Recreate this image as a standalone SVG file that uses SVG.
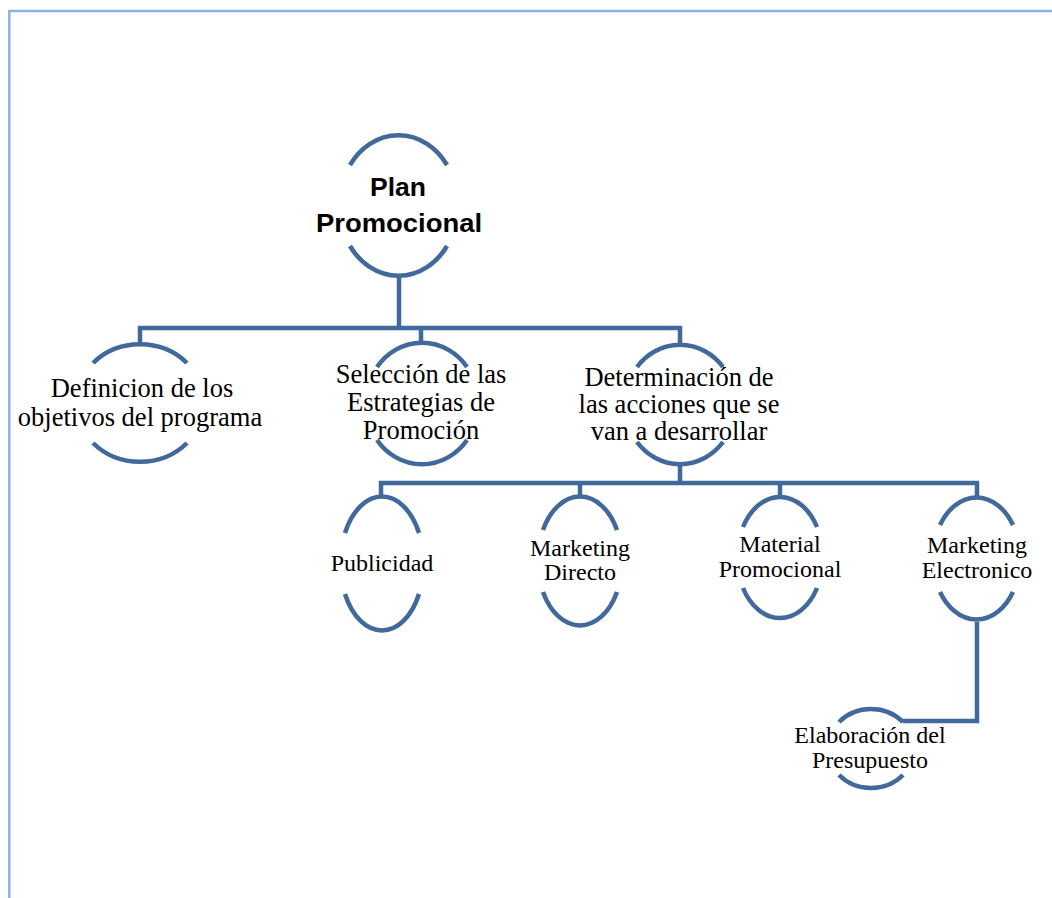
<svg xmlns="http://www.w3.org/2000/svg" width="1052" height="898" viewBox="0 0 1052 898">
<style>
.arc{fill:none;stroke:#41699c;stroke-width:4.5;stroke-linecap:butt}
.con{fill:none;stroke:#41699c;stroke-width:4.5;stroke-linejoin:miter}
.t{font-family:"Liberation Serif","Times New Roman",serif;font-size:26.5px;fill:#000;text-anchor:middle}
.s{font-family:"Liberation Serif","Times New Roman",serif;font-size:24px;fill:#000;text-anchor:middle}
.b{font-family:"Liberation Sans",Arial,sans-serif;font-size:25px;font-weight:bold;fill:#000;text-anchor:middle}
.frame{fill:none;stroke:#8db3e2;stroke-width:2.5}
</style>
<rect width="1052" height="898" fill="#fff"/>
<path class="frame" d="M9.3,898 V11 H1052"/>
<g id="connectors">
<path class="con" d="M399,274 V328"/>
<path class="con" d="M140,345 V328 H680 V345"/>
<path class="con" d="M421,328 V343"/>
<path class="con" d="M680,463 V483"/>
<path class="con" d="M381,497 V483 H977 V497"/>
<path class="con" d="M580,483 V497"/>
<path class="con" d="M780,483 V497"/>
<path class="con" d="M977,622 V721 H903"/>
</g>
<g id="plan">
<path class="arc" d="M350,165 A59,69 0 0 1 447,165"/>
<path class="arc" d="M350,246 A59,69 0 0 0 447,246"/>
<text class="b" x="398" y="196" textLength="56" lengthAdjust="spacingAndGlyphs">Plan</text>
<text class="b" x="399" y="232" textLength="166" lengthAdjust="spacingAndGlyphs">Promocional</text>
</g>
<g id="definicion">
<path class="arc" d="M93,363 A64,58.5 0 0 1 187,363"/>
<path class="arc" d="M93,443 A64,58.5 0 0 0 187,443"/>
<text class="t" x="142" y="397">Definicion de los</text>
<text class="t" x="140" y="426">objetivos del programa</text>
</g>
<g id="seleccion">
<path class="arc" d="M377,367 A56,60 0 0 1 467,367"/>
<path class="arc" d="M377,440 A56,60 0 0 0 467,440"/>
<text class="t" x="421" y="383">Selección de las</text>
<text class="t" x="421" y="411">Estrategias de</text>
<text class="t" x="421" y="439">Promoción</text>
</g>
<g id="determinacion">
<path class="arc" d="M637,367 A55,59 0 0 1 723,367"/>
<path class="arc" d="M637,442 A55,59 0 0 0 723,442"/>
<text class="t" x="679" y="386">Determinación de</text>
<text class="t" x="679" y="413">las acciones que se</text>
<text class="t" x="679" y="440">van a desarrollar</text>
</g>
<g id="publicidad">
<path class="arc" d="M345,533 A41.5,66.5 0 0 1 419,533"/>
<path class="arc" d="M345,594 A41.5,66.5 0 0 0 419,594"/>
<text class="s" x="382" y="571">Publicidad</text>
</g>
<g id="mdirecto">
<path class="arc" d="M543,530 A42,63.5 0 0 1 617,530"/>
<path class="arc" d="M543,592 A42,63.5 0 0 0 617,592"/>
<text class="s" x="580" y="556">Marketing</text>
<text class="s" x="580" y="580">Directo</text>
</g>
<g id="material">
<path class="arc" d="M743,527 A42.7,60 0 0 1 817,527"/>
<path class="arc" d="M743,588 A42.7,60 0 0 0 817,588"/>
<text class="s" x="780" y="552">Material</text>
<text class="s" x="780" y="577">Promocional</text>
</g>
<g id="melectronico">
<path class="arc" d="M940,525 A44,62.5 0 0 1 1013,525"/>
<path class="arc" d="M940,592 A44,62.5 0 0 0 1013,592"/>
<text class="s" x="977" y="553">Marketing</text>
<text class="s" x="977" y="578">Electronico</text>
</g>
<g id="elaboracion">
<path class="arc" d="M839,722 A43.6,40.5 0 0 1 903,722"/>
<path class="arc" d="M839,775 A43.6,40.5 0 0 0 903,775"/>
<text class="s" x="870" y="743">Elaboración del</text>
<text class="s" x="870" y="768">Presupuesto</text>
</g>
</svg>
